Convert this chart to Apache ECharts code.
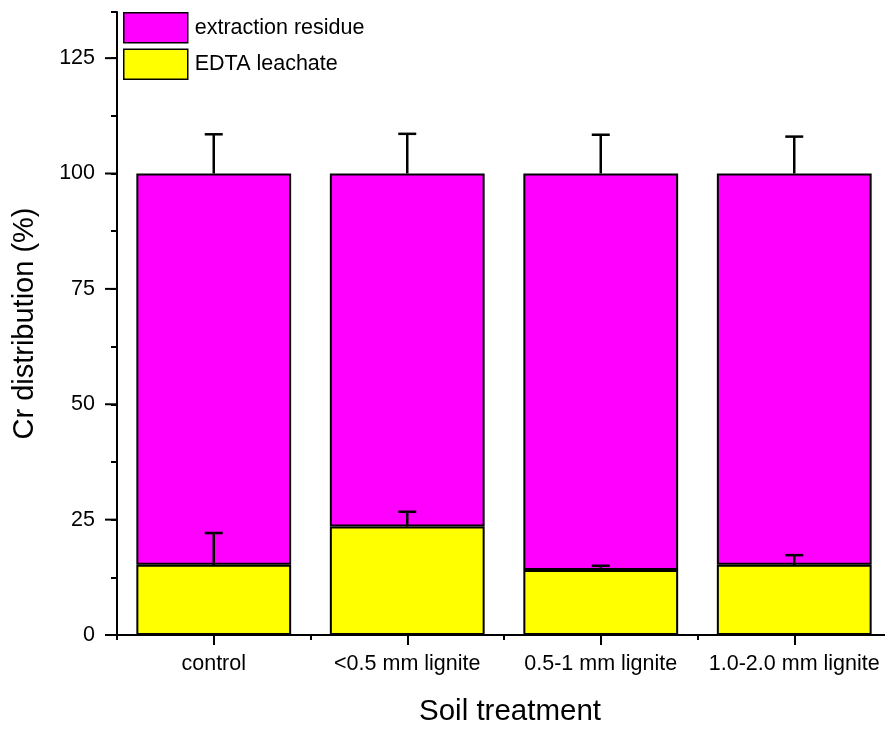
<!DOCTYPE html>
<html>
<head>
<meta charset="utf-8">
<script src="https://cdn.jsdelivr.net/npm/echarts@6/dist/echarts.min.js"></script>
<style>html,body{margin:0;padding:0;background:#fff;overflow:hidden;width:885px;height:733px}#c{width:891px;height:733px}</style>
</head>
<body>
<div id="c"></div>
<script>
const categories = ['control', '<0.5 mm lignite', '0.5-1 mm lignite', '1.0-2.0 mm lignite'];
const edtaLeachate = [15.2, 23.5, 14.1, 15.2];
const edtaError = [6.9, 3.2, 0.9, 2.1];
const extractionResidue = [84.8, 76.5, 85.9, 84.8];
const residueError = [8.5, 8.6, 8.4, 8.0];
const yTicks = [0, 25, 50, 75, 100, 125];

const font = 'Liberation Sans, Arial, sans-serif';
const chart = echarts.init(document.getElementById('c'), null, {renderer: 'canvas'});

const errData = [];
categories.forEach((c, i) => {
  errData.push([i, edtaLeachate[i], edtaLeachate[i] + edtaError[i]]);
  const tot = edtaLeachate[i] + extractionResidue[i];
  errData.push([i, tot, tot + residueError[i]]);
});

chart.setOption({
  animation: false,
  backgroundColor: '#fff',
  textStyle: {fontFamily: font, color: '#000'},
  grid: {left: 117, right: 0, top: 12, height: 623, containLabel: false},
  legend: {
    orient: 'vertical', left: 123, top: 12, itemWidth: 64, itemHeight: 30, itemGap: 5,
    icon: 'rect',
    itemStyle: {borderColor: '#000', borderWidth: 1.5},
    textStyle: {fontFamily: font, fontSize: 21.5, color: '#000', padding: [4, 0, 0, 2]},
    padding: 0,
    data: ['extraction residue', 'EDTA leachate']
  },
  xAxis: [{
    type: 'category', data: categories,
    axisLine: {lineStyle: {color: '#000', width: 2}},
    axisTick: {show: true, alignWithLabel: true, length: 10, lineStyle: {color: '#000', width: 2}},
    axisLabel: {fontFamily: font, fontSize: 21.5, color: '#000', margin: 18, interval: 0},
    name: 'Soil treatment', nameLocation: 'middle', nameGap: 62,
    nameTextStyle: {fontFamily: font, fontSize: 29.5, color: '#000', padding: [0, 0, 0, 12]}
  }, {
    type: 'category', data: categories, position: 'bottom',
    axisLine: {show: false},
    axisTick: {show: true, alignWithLabel: false, length: 5, lineStyle: {color: '#000', width: 2}},
    axisLabel: {show: false}
  }],
  yAxis: {
    type: 'value', min: 0, max: 135, interval: 12.5,
    axisLine: {show: true, lineStyle: {color: '#000', width: 2}},
    axisTick: {show: true, length: 6, lineStyle: {color: '#000', width: 2}},
    splitLine: {show: false},
    axisLabel: {
      fontFamily: font, fontSize: 21.5, color: '#000', margin: 22,
      formatter: v => yTicks.includes(v) ? String(v) : ''
    },
    name: 'Cr distribution (%)', nameLocation: 'middle', nameGap: 78,
    nameTextStyle: {fontFamily: font, fontSize: 29, color: '#000'}
  },
  series: [
    {
      name: 'EDTA leachate', type: 'bar', stack: 'a', data: edtaLeachate, barWidth: '80%',
      itemStyle: {color: '#FFFF00', borderColor: '#000', borderWidth: 2}
    },
    {
      name: 'extraction residue', type: 'bar', stack: 'a', data: extractionResidue, barWidth: '80%',
      itemStyle: {color: '#FF00FF', borderColor: '#000', borderWidth: 2}
    },
    {
      type: 'custom', z: 10, data: errData,
      renderItem: (params, api) => {
        const x = api.value(0);
        const p0 = api.coord([x, api.value(1)]);
        const p1 = api.coord([x, api.value(2)]);
        const hw = 9;
        const st = {stroke: '#000', lineWidth: 2.5};
        return {type: 'group', children: [
          {type: 'line', shape: {x1: p0[0], y1: p0[1], x2: p1[0], y2: p1[1]}, style: st},
          {type: 'line', shape: {x1: p1[0] - hw, y1: p1[1], x2: p1[0] + hw, y2: p1[1]}, style: st}
        ]};
      }
    },
    {
      type: 'custom', data: yTicks.map(v => [0, v]),
      renderItem: (params, api) => {
        const p = api.coord([0, api.value(1)]);
        return {type: 'line', shape: {x1: 117 - 12, y1: p[1], x2: 117, y2: p[1]}, style: {stroke: '#000', lineWidth: 2}};
      }
    }
  ]
});
</script>
</body>
</html>
